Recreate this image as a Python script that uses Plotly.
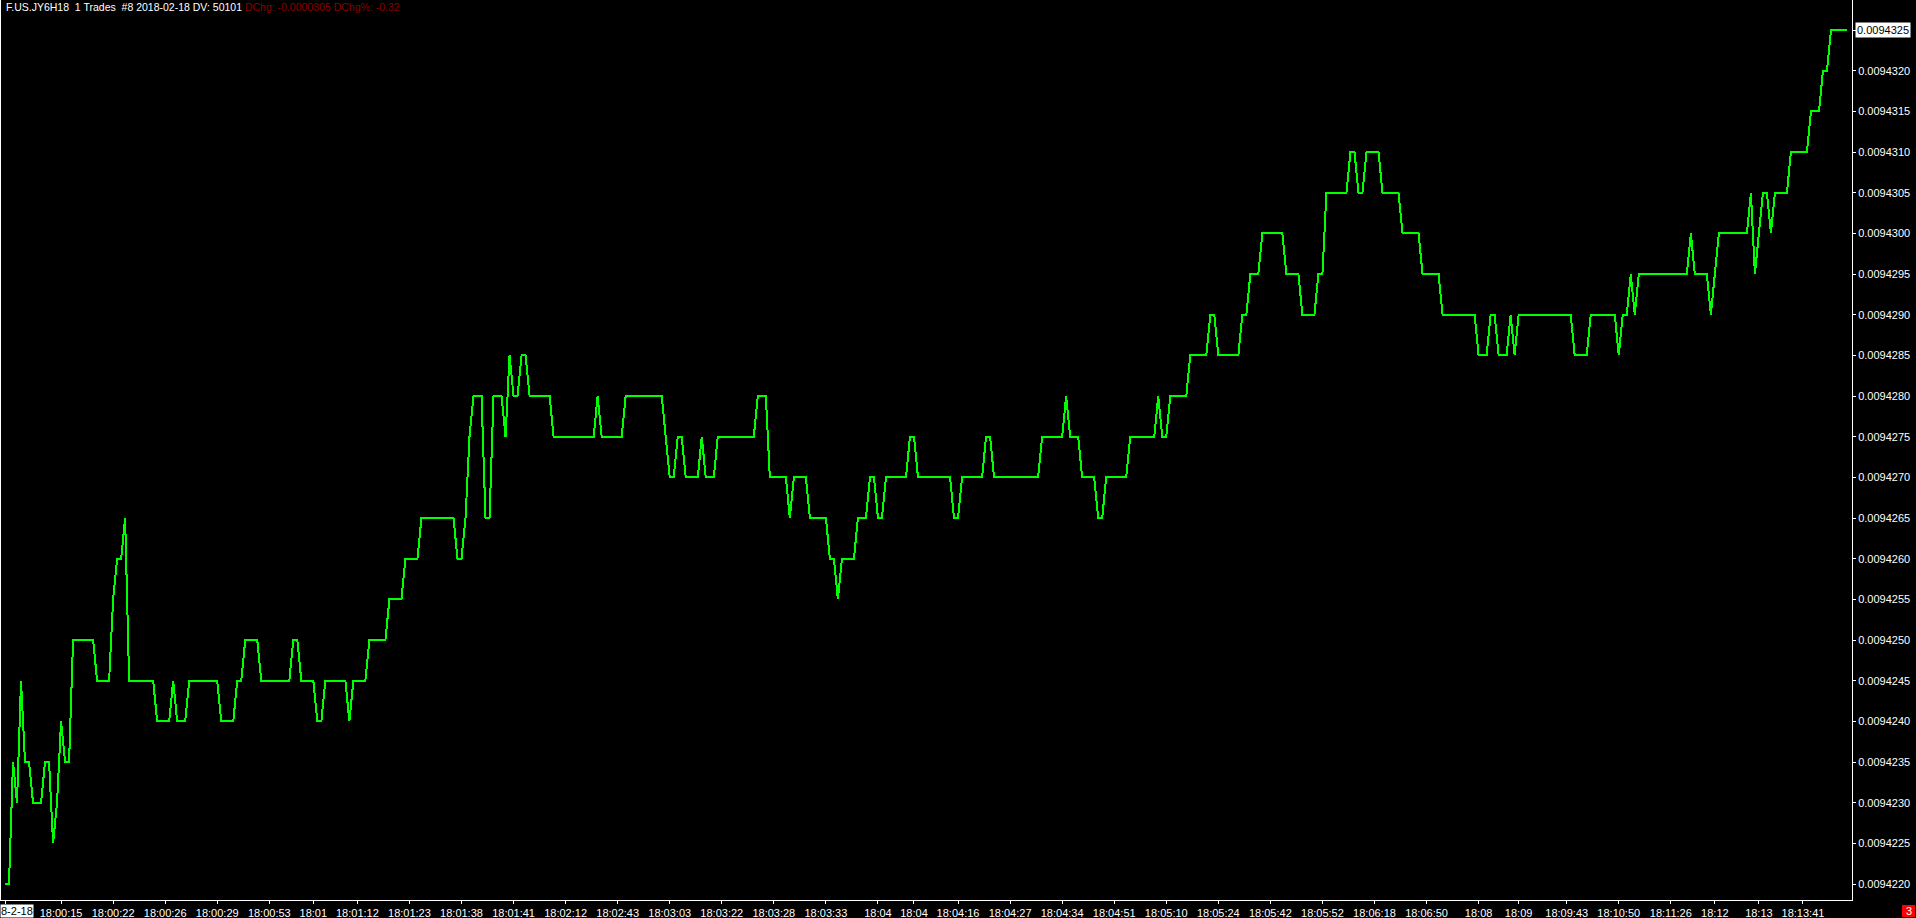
import plotly.graph_objects as go

# ---- data (trade number within the chart, traded price) ----
trade_no = [0, 1, 2, 3, 4, 5, 6, 7, 9, 10, 11, 12, 13, 14, 15, 16, 17, 22, 23, 26,
            27, 28, 29, 30, 31, 37, 38, 41, 42, 43, 45, 46, 53, 54, 57, 58, 59, 60, 63, 64,
            71, 72, 73, 74, 77, 78, 79, 80, 85, 86, 87, 90, 91, 95, 96, 99, 100, 103, 104, 112,
            113, 114, 115, 116, 117, 119, 120, 121, 122, 124, 125, 126, 127, 128, 129, 130, 131, 136, 137, 147,
            148, 149, 154, 155, 164, 165, 166, 167, 168, 169, 170, 173, 174, 175, 177, 178, 187, 188, 190, 191,
            195, 196, 197, 200, 201, 205, 206, 207, 208, 209, 212, 213, 215, 216, 217, 218, 219, 220, 225, 226,
            227, 228, 236, 237, 238, 239, 244, 245, 246, 247, 258, 259, 264, 265, 266, 268, 269, 272, 273, 274,
            275, 280, 281, 287, 288, 289, 290, 291, 295, 296, 300, 301, 302, 303, 308, 309, 310, 311, 313, 314,
            319, 320, 323, 324, 327, 328, 329, 330, 335, 336, 337, 338, 339, 340, 343, 344, 348, 349, 353, 354,
            358, 359, 367, 368, 370, 371, 372, 373, 375, 376, 377, 378, 391, 392, 395, 396, 402, 403, 404, 405,
            406, 407, 408, 420, 421, 422, 425, 426, 427, 428, 435, 436, 437, 438, 439, 440, 441, 442, 445, 446,
            450, 451, 453, 454, 455, 456, 460]

price = [0.0094220, 0.0094220, 0.0094235, 0.0094230, 0.0094245, 0.0094235, 0.0094235, 0.0094230, 0.0094230, 0.0094235,
         0.0094235, 0.0094225, 0.0094230, 0.0094240, 0.0094235, 0.0094235, 0.0094250, 0.0094250, 0.0094245, 0.0094245,
         0.0094255, 0.0094260, 0.0094260, 0.0094265, 0.0094245, 0.0094245, 0.0094240, 0.0094240, 0.0094245, 0.0094240,
         0.0094240, 0.0094245, 0.0094245, 0.0094240, 0.0094240, 0.0094245, 0.0094245, 0.0094250, 0.0094250, 0.0094245,
         0.0094245, 0.0094250, 0.0094250, 0.0094245, 0.0094245, 0.0094240, 0.0094240, 0.0094245, 0.0094245, 0.0094240,
         0.0094245, 0.0094245, 0.0094250, 0.0094250, 0.0094255, 0.0094255, 0.0094260, 0.0094260, 0.0094265, 0.0094265,
         0.0094260, 0.0094260, 0.0094265, 0.0094275, 0.0094280, 0.0094280, 0.0094265, 0.0094265, 0.0094280, 0.0094280,
         0.0094275, 0.0094285, 0.0094280, 0.0094280, 0.0094285, 0.0094285, 0.0094280, 0.0094280, 0.0094275, 0.0094275,
         0.0094280, 0.0094275, 0.0094275, 0.0094280, 0.0094280, 0.0094275, 0.0094270, 0.0094270, 0.0094275, 0.0094275,
         0.0094270, 0.0094270, 0.0094275, 0.0094270, 0.0094270, 0.0094275, 0.0094275, 0.0094280, 0.0094280, 0.0094270,
         0.0094270, 0.0094265, 0.0094270, 0.0094270, 0.0094265, 0.0094265, 0.0094260, 0.0094260, 0.0094255, 0.0094260,
         0.0094260, 0.0094265, 0.0094265, 0.0094270, 0.0094270, 0.0094265, 0.0094265, 0.0094270, 0.0094270, 0.0094275,
         0.0094275, 0.0094270, 0.0094270, 0.0094265, 0.0094265, 0.0094270, 0.0094270, 0.0094275, 0.0094275, 0.0094270,
         0.0094270, 0.0094275, 0.0094275, 0.0094280, 0.0094275, 0.0094275, 0.0094270, 0.0094270, 0.0094265, 0.0094265,
         0.0094270, 0.0094270, 0.0094275, 0.0094275, 0.0094280, 0.0094275, 0.0094275, 0.0094280, 0.0094280, 0.0094285,
         0.0094285, 0.0094290, 0.0094290, 0.0094285, 0.0094285, 0.0094290, 0.0094290, 0.0094295, 0.0094295, 0.0094300,
         0.0094300, 0.0094295, 0.0094295, 0.0094290, 0.0094290, 0.0094295, 0.0094295, 0.0094305, 0.0094305, 0.0094310,
         0.0094310, 0.0094305, 0.0094305, 0.0094310, 0.0094310, 0.0094305, 0.0094305, 0.0094300, 0.0094300, 0.0094295,
         0.0094295, 0.0094290, 0.0094290, 0.0094285, 0.0094285, 0.0094290, 0.0094290, 0.0094285, 0.0094285, 0.0094290,
         0.0094285, 0.0094290, 0.0094290, 0.0094285, 0.0094285, 0.0094290, 0.0094290, 0.0094285, 0.0094290, 0.0094290,
         0.0094295, 0.0094290, 0.0094295, 0.0094295, 0.0094300, 0.0094295, 0.0094295, 0.0094290, 0.0094295, 0.0094300,
         0.0094300, 0.0094305, 0.0094295, 0.0094300, 0.0094305, 0.0094305, 0.0094300, 0.0094305, 0.0094305, 0.0094310,
         0.0094310, 0.0094315, 0.0094315, 0.0094320, 0.0094320, 0.0094325, 0.0094325]

x_tick_trades = [14, 27, 40, 53, 66, 77, 88, 101, 114, 127, 140, 153, 166, 179, 192, 205, 218, 227, 238, 251,
                 264, 277, 290, 303, 316, 329, 342, 355, 368, 378, 390, 403, 416, 427, 438, 449]
x_tick_labels = ["18:00:15", "18:00:22", "18:00:26", "18:00:29", "18:00:53", "18:01", "18:01:12", "18:01:23",
                 "18:01:38", "18:01:41", "18:02:12", "18:02:43", "18:03:03", "18:03:22", "18:03:28", "18:03:33",
                 "18:04", "18:04", "18:04:16", "18:04:27", "18:04:34", "18:04:51", "18:05:10", "18:05:24",
                 "18:05:42", "18:05:52", "18:06:18", "18:06:50", "18:08", "18:09", "18:09:43", "18:10:50",
                 "18:11:26", "18:12", "18:13", "18:13:41"]
date_label = "8-2-18"

y_tick_values = [0.0094220, 0.0094225, 0.0094230, 0.0094235, 0.0094240, 0.0094245, 0.0094250, 0.0094255,
                 0.0094260, 0.0094265, 0.0094270, 0.0094275, 0.0094280, 0.0094285, 0.0094290, 0.0094295,
                 0.0094300, 0.0094305, 0.0094310, 0.0094315, 0.0094320, 0.0094325]
last_price = 0.0094325

title_main = "F.US.JY6H18\u00a0\u00a01 Trades\u00a0\u00a0#8 2018-02-18 DV: 50101 "
title_chg = "DChg: -0.0000305 DChg%: -0.32"
corner_badge = "3"

# ---- layout geometry ----
W, H = 1916, 918
PLOT_W, PLOT_H = 1852, 900
FIRST_PX, LAST_PX = 5.0, 1847.0
step = (LAST_PX - FIRST_PX) / (trade_no[-1] - trade_no[0])
x_range = [trade_no[0] - FIRST_PX / step, trade_no[0] + (PLOT_W - FIRST_PX) / step]

# y: 0.0094325 at 30px, 0.0094220 at 884px from top
span = PLOT_H * (y_tick_values[-1] - y_tick_values[0]) / (884 - 30)
y_max = y_tick_values[-1] + 30 / PLOT_H * span
y_range = [y_max - span, y_max]

FONT = "Liberation Sans, Arial, sans-serif"

fig = go.Figure()
fig.add_trace(go.Scatter(x=trade_no, y=price, mode="lines",
                         line=dict(color="#00FF00", width=2, shape="linear"),
                         hoverinfo="skip", showlegend=False))

y_text = ["%.7f" % v for v in y_tick_values]
y_text[-1] = ""

fig.update_layout(
    width=W, height=H,
    paper_bgcolor="#000000", plot_bgcolor="#000000",
    margin=dict(l=0, r=W - PLOT_W, t=0, b=H - PLOT_H, pad=0),
    font=dict(family=FONT, size=11, color="#FFFFFF"),
    showlegend=False,
    xaxis=dict(range=x_range, showgrid=False, zeroline=False, showline=True,
               linecolor="#FFFFFF", linewidth=1, ticks="outside", ticklen=3,
               tickcolor="#FFFFFF", tickwidth=1,
               tickvals=[trade_no[0]] + x_tick_trades, ticktext=[""] + x_tick_labels,
               tickfont=dict(family=FONT, size=11, color="#FFFFFF"), fixedrange=True),
    yaxis=dict(range=y_range, side="right", showgrid=False, zeroline=False, showline=True,
               linecolor="#FFFFFF", linewidth=1, ticks="outside", ticklen=3,
               tickcolor="#FFFFFF", tickwidth=1,
               tickvals=y_tick_values, ticktext=y_text,
               tickfont=dict(family=FONT, size=11, color="#FFFFFF"), fixedrange=True),
)

# left frame line
fig.add_shape(type="line", xref="paper", yref="paper", x0=0.5 / PLOT_W, x1=0.5 / PLOT_W,
              y0=0, y1=1, line=dict(color="#FFFFFF", width=1))

# title
fig.add_annotation(xref="paper", yref="paper", x=4 / PLOT_W, y=1 - 7 / PLOT_H,
                   xanchor="left", yanchor="middle", showarrow=False,
                   text='<span style="color:#FFFFFF">' + title_main + '</span>'
                        '<span style="color:#8B0000">' + title_chg + '</span>',
                   font=dict(family=FONT, size=10.5))

# last price highlight
fig.add_annotation(xref="paper", yref="y", x=1855 / PLOT_W, y=last_price,
                   xanchor="left", yanchor="middle", showarrow=False,
                   text="%.7f" % last_price, bgcolor="#FFFFFF", borderpad=1,
                   font=dict(family=FONT, size=11, color="#000000"))

# date label at the first bar
fig.add_annotation(xref="paper", yref="paper", x=0, y=-(911 - PLOT_H) / PLOT_H,
                   xanchor="left", yanchor="middle", showarrow=False,
                   text=date_label, bgcolor="#FFFFFF", borderpad=0,
                   font=dict(family=FONT, size=11, color="#000000"))

# red badge bottom-right
fig.add_shape(type="rect", xref="paper", yref="paper",
              x0=1902 / PLOT_W, x1=1915 / PLOT_W,
              y0=-(917 - PLOT_H) / PLOT_H, y1=-(905 - PLOT_H) / PLOT_H,
              fillcolor="#FF0000", line=dict(width=0))
fig.add_annotation(xref="paper", yref="paper", x=1908.5 / PLOT_W, y=-(911 - PLOT_H) / PLOT_H,
                   xanchor="center", yanchor="middle", showarrow=False,
                   text=corner_badge, font=dict(family=FONT, size=11, color="#FFFFFF"))

page_style = ("document.documentElement.style.background='#000';"
              "document.body.style.margin='0';document.body.style.padding='0';"
              "document.body.style.background='#000';document.body.style.overflow='hidden';"
              "document.querySelectorAll('.scatterlayer path.js-line').forEach(function(p){"
              "p.style.shapeRendering='crispEdges';});")

fig.write_html("out.html", post_script=page_style,
               config={"displayModeBar": False, "staticPlot": True})
